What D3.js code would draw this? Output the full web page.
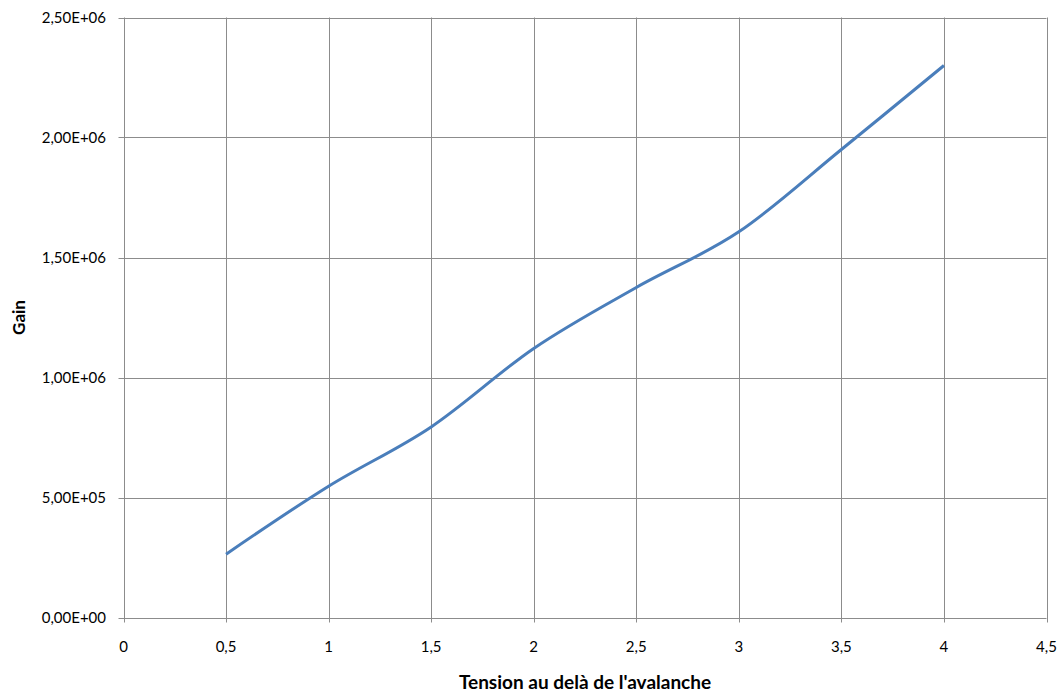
<!DOCTYPE html>
<html><head><meta charset="utf-8">
<script src="https://cdn.jsdelivr.net/npm/d3@7"></script>
<style>body{margin:0;background:#fff}svg{display:block}text{font-family:Lato,"Open Sans",sans-serif;fill:#000}</style>
</head><body><svg id="c" width="1064" height="693"></svg>
<script>
const xValues = [0.5, 1, 1.5, 2, 2.5, 3, 3.5, 4];
const gainValues = [264000, 547000, 794000, 1121000, 1375000, 1607000, 1950000, 2300000];
const xTicks = [0, 0.5, 1, 1.5, 2, 2.5, 3, 3.5, 4, 4.5];
const yTicks = [0, 500000, 1000000, 1500000, 2000000, 2500000];
const xTitle = "Tension au delà de l'avalanche";
const yTitle = "Gain";

const svg = d3.select("#c");
const L = 123.5, R = 1046.5, T = 17.5, B = 617.5;
const x = d3.scaleLinear().domain([0, 4.5]).range([L, R]);
const y = d3.scaleLinear().domain([0, 2500000]).range([B, T]);
const grid = "#8c8c8c";

const fmtX = v => String(v).replace(".", ",");
const fmtY = v => {
  const s = v.toExponential(2).replace(".", ",");
  const m = s.match(/^([\d,]+)e([+-])(\d+)$/);
  return m[1] + "E" + m[2] + m[3].padStart(2, "0");
};

// gridlines
svg.append("g").selectAll("line").data(yTicks).join("line")
  .attr("x1", L - 5).attr("x2", R).attr("y1", d => Math.round(y(d)) + 0.5).attr("y2", d => Math.round(y(d)) + 0.5)
  .attr("stroke", grid).attr("stroke-width", 1);
svg.append("g").selectAll("line").data(xTicks).join("line")
  .attr("y1", T).attr("y2", B + 5).attr("x1", d => Math.round(x(d)) + 0.5).attr("x2", d => Math.round(x(d)) + 0.5)
  .attr("stroke", grid).attr("stroke-width", 1);

// tick labels
svg.append("g").selectAll("text").data(yTicks).join("text")
  .attr("x", 106).attr("y", d => y(d)).attr("dy", "0.35em").attr("text-anchor", "end")
  .style("font-size", "15px").text(fmtY);
svg.append("g").selectAll("text").data(xTicks).join("text")
  .attr("x", d => x(d)).attr("y", 647).attr("dy", "0.35em").attr("text-anchor", "middle")
  .style("font-size", "15px").text(fmtX);

// titles
svg.append("text").attr("x", (L + R) / 2).attr("y", 682).attr("dy", "0.35em").attr("text-anchor", "middle")
  .style("font-size", "19px").style("font-weight", "bold").text(xTitle);
svg.append("text").attr("transform", `translate(19,${(T + B) / 2}) rotate(-90)`).attr("dy", "0.35em")
  .attr("text-anchor", "middle").style("font-size", "17px").style("font-weight", "bold").text(yTitle);

// line
const line = d3.line().x((d, i) => x(xValues[i])).y(d => y(d)).curve(d3.curveCatmullRom.alpha(0));
svg.append("path").datum(gainValues).attr("d", line)
  .attr("fill", "none").attr("stroke", "#4a7ebb").attr("stroke-width", 3).attr("stroke-linejoin", "round");
</script></body></html>
